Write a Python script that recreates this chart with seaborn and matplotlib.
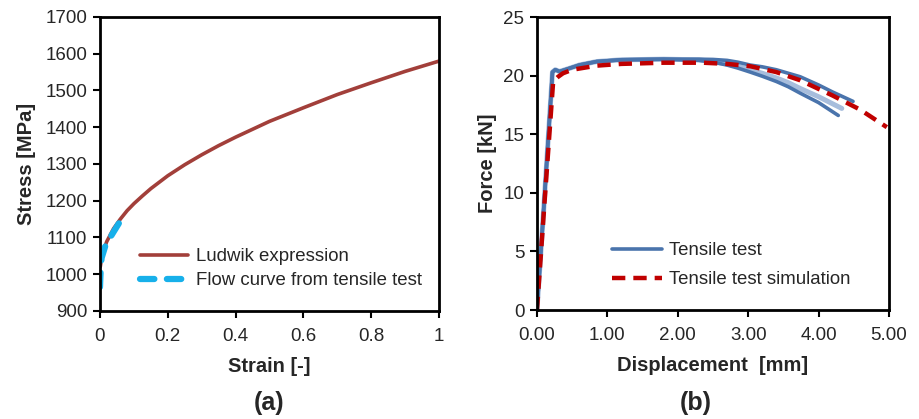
import seaborn as sns
import matplotlib.pyplot as plt

# (a) Ludwik expression vs flow curve
ludwik_strain = [0.001, 0.005, 0.01, 0.02, 0.04, 0.06, 0.08, 0.1, 0.125, 0.15, 0.2, 0.25,
                 0.3, 0.35, 0.4, 0.5, 0.6, 0.7, 0.8, 0.9, 1.0]
ludwik_stress = [1021, 1046, 1064, 1089, 1124, 1150, 1173, 1192, 1213, 1233, 1268, 1298,
                 1325, 1350, 1373, 1416, 1453, 1489, 1521, 1552, 1580]

flow_strain = [0.0, 0.001, 0.002, 0.003, 0.005, 0.01, 0.015, 0.02, 0.03, 0.04, 0.05, 0.06]
flow_stress = [965, 990, 1010, 1030, 1045, 1060, 1075, 1085, 1100, 1115, 1130, 1145]

# (b) tensile tests vs simulation
start_disp = [0.0, 0.10, 0.22, 0.26, 0.32, 0.45, 0.6, 0.85, 1.2, 1.8]
start_force = [0.0, 9.0, 20.3, 20.5, 20.35, 20.6, 20.9, 21.2, 21.35, 21.4]

test1_disp = start_disp + [2.3, 2.5, 2.7, 2.85, 3.03, 3.2, 3.4, 3.57, 3.74, 4.0, 4.28]
test1_force = start_force + [21.3, 21.15, 20.9, 20.65, 20.3, 19.95, 19.5, 19.05, 18.5, 17.7, 16.6]

test2_disp = start_disp + [2.3, 2.5, 2.7, 2.85, 3.03, 3.2, 3.4, 3.57, 3.74, 4.0, 4.33]
test2_force = start_force + [21.35, 21.2, 21.0, 20.8, 20.5, 20.2, 19.8, 19.4, 18.9, 18.2, 17.2]

test3_disp = start_disp + [2.3, 2.5, 2.7, 2.85, 3.03, 3.2, 3.4, 3.57, 3.74, 4.0, 4.2, 4.49]
test3_force = start_force + [21.4, 21.38, 21.3, 21.15, 20.9, 20.75, 20.5, 20.2, 19.9, 19.2, 18.6, 17.8]

sim_disp = [0.0, 0.11, 0.23, 0.3, 0.37, 0.5, 0.85, 1.2, 1.8, 2.36, 2.7, 3.03,
            3.4, 3.74, 4.2, 4.59, 4.97]
sim_force = [0.0, 9.4, 19.5, 19.9, 20.2, 20.5, 20.85, 21.0, 21.1, 21.1, 21.0, 20.8,
             20.3, 19.6, 18.3, 17.1, 15.6]

sns.set_style("white")
plt.rcParams['font.family'] = ['Liberation Sans', 'DejaVu Sans']

fig = plt.figure(figsize=(9.19, 4.19), dpi=100)
ax1 = fig.add_axes([0.1088, 0.2578, 0.369, 0.7017])
ax2 = fig.add_axes([0.5843, 0.2601, 0.383, 0.6993])

fs_tick = 13.5
fs_lab = 14.5
fs_leg = 13.4

sns.lineplot(x=ludwik_strain, y=ludwik_stress, ax=ax1, color='#A23F3A', linewidth=2.6,
             label='Ludwik expression', sort=False, estimator=None)
sns.lineplot(x=flow_strain, y=flow_stress, ax=ax1, color='#17B0EA', linewidth=4.5,
             label='Flow curve from tensile test', sort=False, estimator=None)
ax1.lines[1].set_dashes([2.3, 2.0])
ax1.lines[1].set_dash_capstyle('round')
ax1.set_xlim(0, 1)
ax1.set_ylim(900, 1700)
ax1.set_xticks([0, 0.2, 0.4, 0.6, 0.8, 1.0])
ax1.set_xticklabels(['0', '0.2', '0.4', '0.6', '0.8', '1'])
ax1.set_yticks(range(900, 1701, 100))
ax1.set_xlabel('Strain [-]', fontsize=fs_lab, fontweight='bold', labelpad=9)
ax1.set_ylabel('Stress [MPa]', fontsize=fs_lab, fontweight='bold', labelpad=7)
leg1 = ax1.legend(loc='upper left', bbox_to_anchor=(0.118, 0.214), frameon=False,
                  fontsize=fs_leg, borderaxespad=0, borderpad=0, handlelength=2.6,
                  handletextpad=0.4, labelspacing=0.39)
leg1.get_lines()[1].set_dash_capstyle('round')

sns.lineplot(x=test2_disp, y=test2_force, ax=ax2, color='#A7BDDC', linewidth=3.6,
             sort=False, estimator=None)
sns.lineplot(x=test1_disp, y=test1_force, ax=ax2, color='#4A74AC', linewidth=2.6,
             label='Tensile test', sort=False, estimator=None)
sns.lineplot(x=test3_disp, y=test3_force, ax=ax2, color='#4A74AC', linewidth=2.6,
             sort=False, estimator=None)
sns.lineplot(x=sim_disp, y=sim_force, ax=ax2, color='#C00000', linewidth=3.2,
             label='Tensile test simulation', sort=False, estimator=None)
ax2.lines[3].set_dashes([3, 1.8])
ax2.set_xlim(0, 5)
ax2.set_ylim(0, 25)
ax2.set_xticks([0, 1, 2, 3, 4, 5])
ax2.set_xticklabels(['0.00', '1.00', '2.00', '3.00', '4.00', '5.00'])
ax2.set_yticks(range(0, 26, 5))
ax2.set_xlabel('Displacement  [mm]', fontsize=fs_lab, fontweight='bold', labelpad=9)
ax2.set_ylabel('Force [kN]', fontsize=fs_lab, fontweight='bold', labelpad=5)
leg2 = ax2.legend(loc='upper left', bbox_to_anchor=(0.213, 0.232), frameon=False,
                  fontsize=fs_leg, borderaxespad=0, borderpad=0, handlelength=2.7,
                  handletextpad=0.35, labelspacing=0.66)
leg2.get_lines()[1].set_dashes([3, 1.8])

for ax in (ax1, ax2):
    for s in ax.spines.values():
        s.set_color('black')
        s.set_linewidth(2)
    ax.tick_params(axis='both', which='major', direction='out', length=5, width=1.5,
                   color='black', labelsize=fs_tick, left=True, bottom=True, pad=4)
    ax.tick_params(axis='x', pad=7)

fig.text(0.293, 0.038, '(a)', ha='center', va='center', fontsize=18, fontweight='bold')
fig.text(0.757, 0.038, '(b)', ha='center', va='center', fontsize=18, fontweight='bold')

fig.savefig('out.png', dpi=100)
